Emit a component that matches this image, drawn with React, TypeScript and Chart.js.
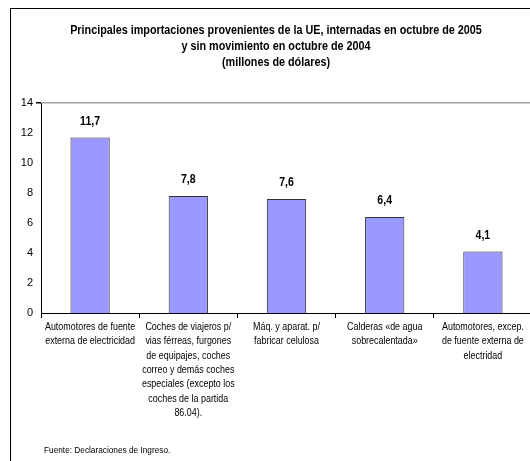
import React, { useEffect, useRef } from "react";
import { Chart, registerables } from "chart.js";

Chart.register(...registerables);

const titleLines = [
  "Principales importaciones provenientes de la UE, internadas en octubre de 2005",
  "y sin movimiento en octubre de 2004",
  "(millones de dólares)",
];

const categories: string[][] = [
  ["Automotores de fuente", "externa de electricidad"],
  ["Coches de viajeros p/", "vias férreas, furgones", "de equipajes, coches", "correo y demás coches", "especiales (excepto los", "coches de la partida", "86.04)."],
  ["Máq. y aparat. p/", "fabricar celulosa"],
  ["Calderas «de agua", "sobrecalentada»"],
  ["Automotores, excep.", "de fuente externa de", "electridad"],
];

const values = [11.7, 7.8, 7.6, 6.4, 4.1];

const yTicks = [0, 2, 4, 6, 8, 10, 12, 14];

const footer = "Fuente: Declaraciones de Ingreso.";

const FONT = "'Liberation Sans', Arial, sans-serif";

function drawText(ctx: CanvasRenderingContext2D, text: string, x: number, y: number, sx: number, align: CanvasTextAlign) {
  ctx.save();
  ctx.translate(x, y);
  ctx.scale(sx, 1);
  ctx.textAlign = align;
  ctx.textBaseline = "middle";
  ctx.fillText(text, 0, 0);
  ctx.restore();
}

const decorPlugin = {
  id: "decor",
  beforeDraw(chart: any) {
    const ctx = chart.ctx;
    ctx.save();
    ctx.fillStyle = "#ffffff";
    ctx.fillRect(0, 0, chart.width, chart.height);
    ctx.strokeStyle = "#000000";
    ctx.lineWidth = 1;
    ctx.strokeRect(10.5, 8.5, 600, 600);
    ctx.restore();
  },
  afterDraw(chart: any) {
    const ctx = chart.ctx;
    ctx.save();
    ctx.fillStyle = "#000000";
    ctx.font = `bold 12px ${FONT}`;
    titleLines.forEach((t, i) => drawText(ctx, t, 276, 31 + i * 16, 0.9, "center"));
    // value labels
    const meta = chart.getDatasetMeta(0);
    ctx.font = `bold 12px ${FONT}`;
    meta.data.forEach((bar: any, i: number) => {
      const v = values[i];
      drawText(ctx, v.toFixed(1).replace(".", ","), bar.x, bar.y - 16, 0.88, "center");
    });
    // category labels
    const xScale = chart.scales.x;
    ctx.font = `10.5px ${FONT}`;
    categories.forEach((lines, i) => {
      const cx = xScale.getPixelForValue(i);
      lines.forEach((ln, k) => drawText(ctx, ln, cx, xScale.top + 14 + k * 14.4, 0.85, "center"));
    });
    // footer
    ctx.font = `9.5px ${FONT}`;
    drawText(ctx, footer, 44, 450, 0.87, "left");
    ctx.restore();
  },
};

export default function App() {
  const ref = useRef<HTMLCanvasElement>(null);
  useEffect(() => {
    if (!ref.current) return;
    const chart = new Chart(ref.current, {
      type: "bar",
      data: {
        labels: categories,
        datasets: [
          {
            data: values,
            backgroundColor: "#9999ff",
            borderColor: "#333333",
            borderWidth: 1,
            barPercentage: 0.4,
            categoryPercentage: 1,
          },
        ],
      },
      options: {
        responsive: false,
        animation: false,
        devicePixelRatio: 1,
        layout: { padding: { left: 0, right: 8, top: 103, bottom: 17 } },
        plugins: {
          legend: { display: false },
          title: { display: false },
          tooltip: { enabled: false },
        },
        scales: {
          x: {
            offset: true,
            grid: {
              offset: true,
              drawOnChartArea: false,
              tickLength: 5,
              tickColor: "#000000",
              color: "#000000",
            },
            border: { color: "#000000", width: 1 },
            ticks: { display: false, autoSkip: false },
            afterFit(scale: any) {
              scale.height = 140;
            },
          },
          y: {
            min: 0,
            max: 14,
            afterBuildTicks(scale: any) {
              scale.ticks = yTicks.map((v) => ({ value: v }));
            },
            grid: {
              color: (c: any) => (c.tick && c.tick.value === 14 ? "#a0a0a0" : "rgba(0,0,0,0)"),
              lineWidth: (c: any) => (c.tick && c.tick.value === 14 ? 1.5 : 0),
              tickColor: "#000000",
              tickLength: 5,
            },
            border: { color: "#000000", width: 1 },
            ticks: {
              padding: 3,
              color: "#000000",
              font: { family: FONT, size: 11 },
            },
            afterFit(scale: any) {
              scale.width = 41;
            },
          },
        },
      },
      plugins: [decorPlugin],
    });
    return () => chart.destroy();
  }, []);
  return (
    <div style={{ position: "fixed", left: 0, top: 0, width: 530, height: 461, overflow: "hidden", background: "#fff" }}>
      <canvas ref={ref} width={540} height={470} style={{ position: "absolute", left: 0, top: 0, width: 540, height: 470 }} />
    </div>
  );
}
